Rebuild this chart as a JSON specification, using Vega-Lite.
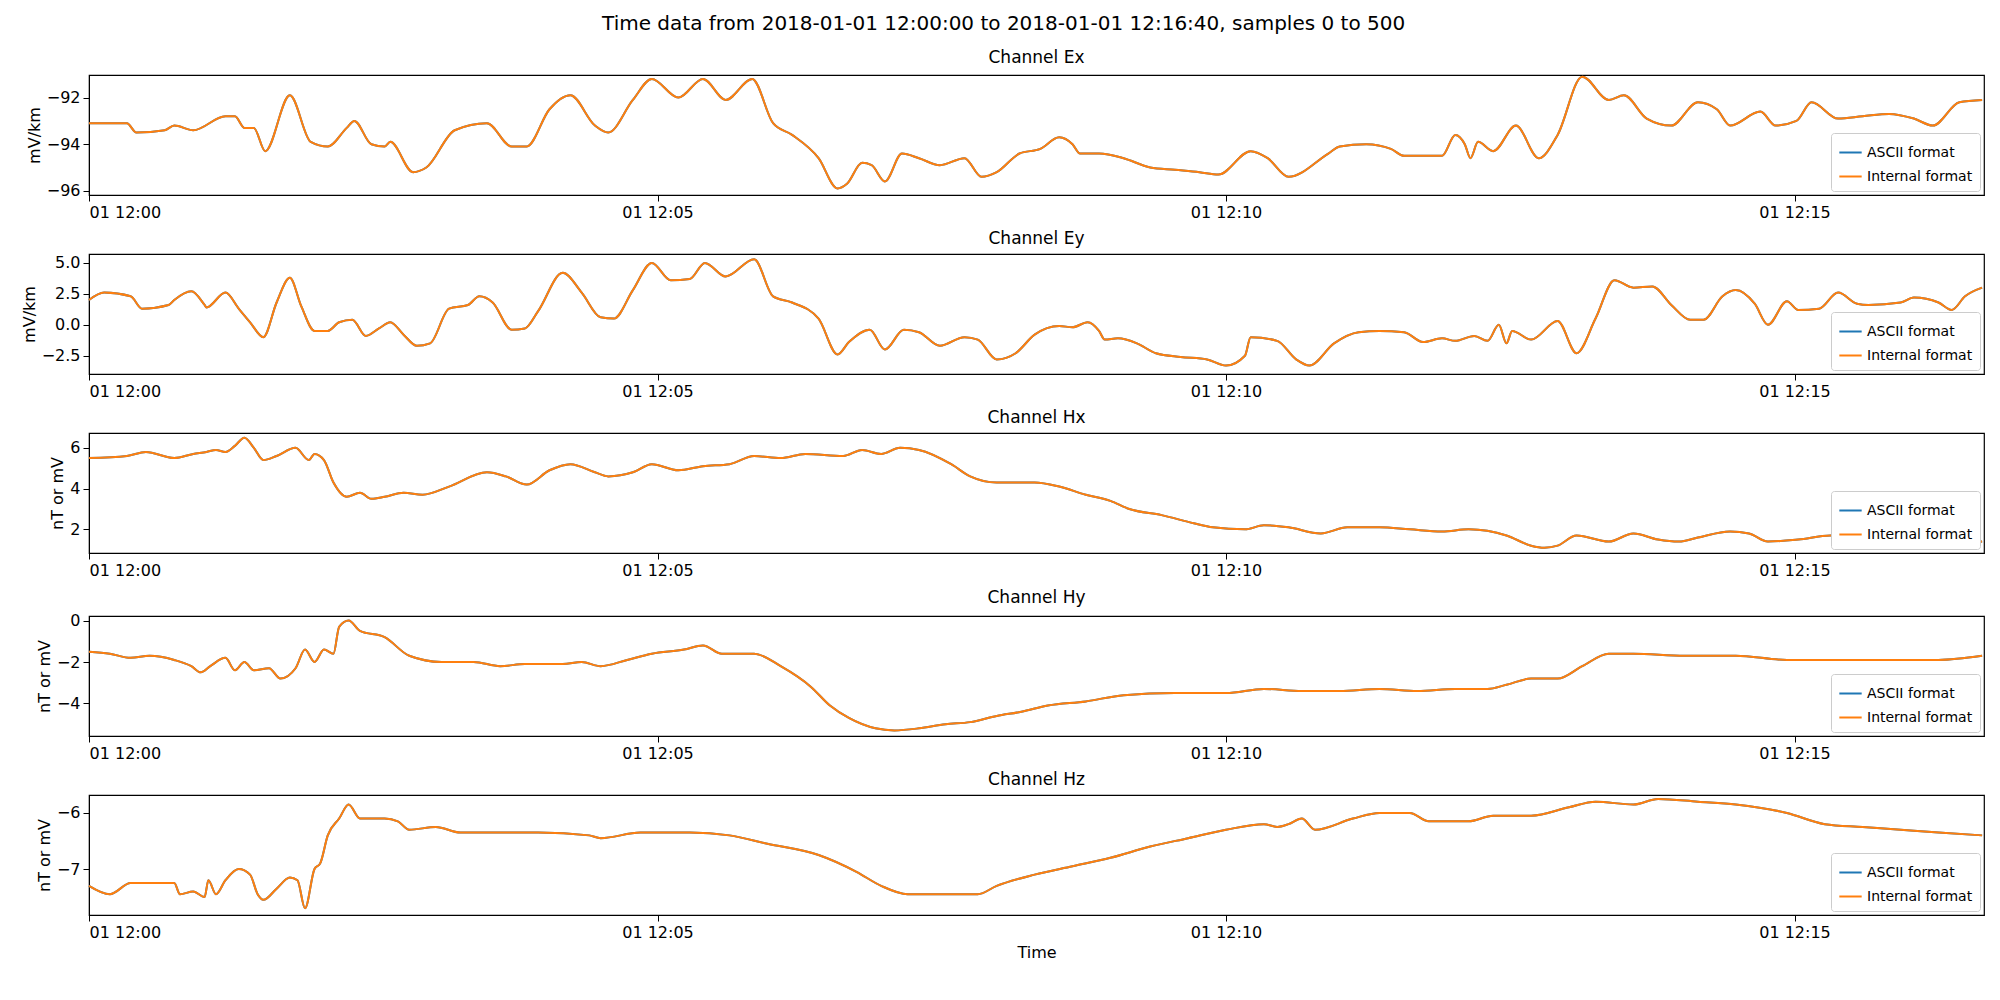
{
  "$schema": "https://vega.github.io/schema/vega-lite/v6.json",
  "background": "white",
  "padding": {"left": 20, "top": 14, "right": 5, "bottom": 5},
  "title": {"text": "Time data from 2018-01-01 12:00:00 to 2018-01-01 12:16:40, samples 0 to 500", "fontSize": 20, "fontWeight": "normal", "font": "DejaVu Sans", "offset": 14, "anchor": "middle"},
  "config": {
    "font": "DejaVu Sans",
    "view": {"stroke": "#000", "strokeWidth": 1.2},
    "axis": {"grid": false, "labelFontSize": 16, "titleFontSize": 16, "titleFontWeight": "normal", "tickColor": "#000", "domainColor": "#000", "labelColor": "#000", "titleColor": "#000", "tickSize": 6, "labelPadding": 3},
    "title": {"fontSize": 17, "fontWeight": "normal", "offset": 6},
    "legend": {"orient": "bottom-right", "offset": 4, "fillColor": "white", "strokeColor": "#ccc", "padding": 7, "cornerRadius": 3, "symbolType": "stroke", "symbolSize": 500, "symbolStrokeWidth": 2, "labelFontSize": 14, "rowPadding": 4, "labelColor": "#000"}
  },
  "datasets": {
    "Ex": [
      {"t":0,"v":-93.1},{"t":20,"v":-93.1},{"t":25,"v":-93.5},{"t":40,"v":-93.4},{"t":45,"v":-93.2},{"t":55,"v":-93.4},{"t":72,"v":-92.8},{"t":77,"v":-92.8},{"t":82,"v":-93.3},{"t":87,"v":-93.3},{"t":93,"v":-94.3},{"t":106,"v":-91.9},{"t":117,"v":-93.9},{"t":126,"v":-94.1},{"t":136,"v":-93.3},{"t":140,"v":-93.0},{"t":149,"v":-94.0},{"t":156,"v":-94.1},{"t":159,"v":-93.9},{"t":171,"v":-95.2},{"t":178,"v":-95.0},{"t":193,"v":-93.4},{"t":210,"v":-93.1},{"t":223,"v":-94.1},{"t":231,"v":-94.1},{"t":243,"v":-92.5},{"t":254,"v":-91.9},{"t":267,"v":-93.2},{"t":274,"v":-93.5},{"t":287,"v":-92.1},{"t":297,"v":-91.2},{"t":311,"v":-92.0},{"t":324,"v":-91.2},{"t":336,"v":-92.1},{"t":350,"v":-91.2},{"t":361,"v":-93.1},{"t":371,"v":-93.6},{"t":385,"v":-94.6},{"t":395,"v":-95.9},{"t":400,"v":-95.7},{"t":408,"v":-94.8},{"t":413,"v":-94.9},{"t":420,"v":-95.6},{"t":429,"v":-94.4},{"t":438,"v":-94.6},{"t":449,"v":-94.9},{"t":462,"v":-94.6},{"t":471,"v":-95.4},{"t":479,"v":-95.2},{"t":491,"v":-94.4},{"t":502,"v":-94.2},{"t":512,"v":-93.7},{"t":519,"v":-94.0},{"t":523,"v":-94.4},{"t":533,"v":-94.4},{"t":546,"v":-94.6},{"t":560,"v":-95.0},{"t":573,"v":-95.1},{"t":586,"v":-95.2},{"t":596,"v":-95.3},{"t":613,"v":-94.3},{"t":622,"v":-94.6},{"t":633,"v":-95.4},{"t":654,"v":-94.4},{"t":660,"v":-94.1},{"t":674,"v":-94.0},{"t":687,"v":-94.2},{"t":694,"v":-94.5},{"t":714,"v":-94.5},{"t":721,"v":-93.6},{"t":726,"v":-94.0},{"t":729,"v":-94.6},{"t":733,"v":-93.9},{"t":741,"v":-94.3},{"t":753,"v":-93.2},{"t":765,"v":-94.6},{"t":775,"v":-93.6},{"t":788,"v":-91.1},{"t":802,"v":-92.1},{"t":810,"v":-91.9},{"t":822,"v":-92.9},{"t":835,"v":-93.2},{"t":849,"v":-92.2},{"t":859,"v":-92.5},{"t":866,"v":-93.2},{"t":882,"v":-92.6},{"t":890,"v":-93.2},{"t":901,"v":-93.0},{"t":909,"v":-92.2},{"t":923,"v":-92.9},{"t":936,"v":-92.8},{"t":950,"v":-92.7},{"t":963,"v":-92.9},{"t":973,"v":-93.2},{"t":987,"v":-92.2},{"t":999,"v":-92.1}
    ],
    "Ey": [
      {"t":0,"v":2.0},{"t":8,"v":2.6},{"t":22,"v":2.3},{"t":28,"v":1.3},{"t":42,"v":1.6},{"t":45,"v":2.0},{"t":54,"v":2.7},{"t":61,"v":1.6},{"t":62,"v":1.4},{"t":72,"v":2.6},{"t":79,"v":1.3},{"t":85,"v":0.2},{"t":92,"v":-1.0},{"t":99,"v":1.8},{"t":106,"v":3.8},{"t":112,"v":1.5},{"t":119,"v":-0.5},{"t":126,"v":-0.5},{"t":132,"v":0.2},{"t":139,"v":0.4},{"t":146,"v":-0.9},{"t":153,"v":-0.3},{"t":159,"v":0.2},{"t":166,"v":-0.8},{"t":173,"v":-1.7},{"t":180,"v":-1.5},{"t":190,"v":1.3},{"t":200,"v":1.6},{"t":206,"v":2.3},{"t":213,"v":1.8},{"t":223,"v":-0.4},{"t":230,"v":-0.3},{"t":237,"v":1.1},{"t":250,"v":4.2},{"t":260,"v":2.6},{"t":270,"v":0.6},{"t":277,"v":0.5},{"t":287,"v":2.8},{"t":297,"v":5.0},{"t":307,"v":3.6},{"t":317,"v":3.7},{"t":325,"v":5.0},{"t":336,"v":3.9},{"t":351,"v":5.3},{"t":361,"v":2.3},{"t":371,"v":1.8},{"t":385,"v":0.5},{"t":395,"v":-2.4},{"t":401,"v":-1.4},{"t":412,"v":-0.4},{"t":420,"v":-2.0},{"t":430,"v":-0.4},{"t":438,"v":-0.6},{"t":449,"v":-1.7},{"t":462,"v":-1.0},{"t":469,"v":-1.2},{"t":479,"v":-2.8},{"t":489,"v":-2.3},{"t":499,"v":-0.8},{"t":512,"v":-0.1},{"t":519,"v":-0.2},{"t":527,"v":0.2},{"t":533,"v":-0.5},{"t":536,"v":-1.2},{"t":543,"v":-1.1},{"t":553,"v":-1.5},{"t":563,"v":-2.3},{"t":576,"v":-2.6},{"t":590,"v":-2.8},{"t":600,"v":-3.3},{"t":610,"v":-2.5},{"t":613,"v":-1.0},{"t":627,"v":-1.3},{"t":637,"v":-2.8},{"t":644,"v":-3.3},{"t":657,"v":-1.5},{"t":670,"v":-0.6},{"t":681,"v":-0.5},{"t":694,"v":-0.6},{"t":704,"v":-1.4},{"t":714,"v":-1.1},{"t":721,"v":-1.3},{"t":731,"v":-0.9},{"t":738,"v":-1.3},{"t":744,"v":0.0},{"t":748,"v":-1.5},{"t":751,"v":-0.5},{"t":761,"v":-1.2},{"t":775,"v":0.3},{"t":785,"v":-2.3},{"t":795,"v":0.5},{"t":805,"v":3.6},{"t":815,"v":3.0},{"t":825,"v":3.1},{"t":835,"v":1.6},{"t":845,"v":0.4},{"t":852,"v":0.4},{"t":862,"v":2.3},{"t":869,"v":2.8},{"t":879,"v":1.7},{"t":886,"v":0.0},{"t":896,"v":1.9},{"t":902,"v":1.2},{"t":913,"v":1.3},{"t":923,"v":2.6},{"t":933,"v":1.7},{"t":939,"v":1.6},{"t":956,"v":1.8},{"t":963,"v":2.2},{"t":976,"v":1.8},{"t":983,"v":1.2},{"t":990,"v":2.3},{"t":999,"v":3.0}
    ],
    "Hx": [
      {"t":0,"v":5.5},{"t":20,"v":5.6},{"t":30,"v":5.8},{"t":45,"v":5.5},{"t":55,"v":5.7},{"t":62,"v":5.8},{"t":67,"v":5.9},{"t":72,"v":5.8},{"t":77,"v":6.1},{"t":82,"v":6.5},{"t":87,"v":6.0},{"t":92,"v":5.4},{"t":99,"v":5.6},{"t":109,"v":6.0},{"t":116,"v":5.4},{"t":119,"v":5.7},{"t":124,"v":5.4},{"t":129,"v":4.3},{"t":136,"v":3.6},{"t":143,"v":3.8},{"t":149,"v":3.5},{"t":156,"v":3.6},{"t":166,"v":3.8},{"t":176,"v":3.7},{"t":190,"v":4.1},{"t":210,"v":4.8},{"t":220,"v":4.6},{"t":231,"v":4.2},{"t":243,"v":4.9},{"t":254,"v":5.2},{"t":267,"v":4.8},{"t":274,"v":4.6},{"t":287,"v":4.8},{"t":297,"v":5.2},{"t":311,"v":4.9},{"t":324,"v":5.1},{"t":338,"v":5.2},{"t":351,"v":5.6},{"t":365,"v":5.5},{"t":378,"v":5.7},{"t":398,"v":5.6},{"t":408,"v":5.9},{"t":418,"v":5.7},{"t":428,"v":6.0},{"t":438,"v":5.9},{"t":455,"v":5.2},{"t":465,"v":4.6},{"t":479,"v":4.3},{"t":499,"v":4.3},{"t":512,"v":4.1},{"t":526,"v":3.7},{"t":539,"v":3.4},{"t":549,"v":3.0},{"t":566,"v":2.7},{"t":583,"v":2.3},{"t":593,"v":2.1},{"t":610,"v":2.0},{"t":620,"v":2.2},{"t":633,"v":2.1},{"t":650,"v":1.8},{"t":664,"v":2.1},{"t":681,"v":2.1},{"t":697,"v":2.0},{"t":714,"v":1.9},{"t":728,"v":2.0},{"t":748,"v":1.7},{"t":761,"v":1.2},{"t":768,"v":1.1},{"t":775,"v":1.2},{"t":785,"v":1.7},{"t":802,"v":1.4},{"t":815,"v":1.8},{"t":828,"v":1.5},{"t":839,"v":1.4},{"t":849,"v":1.6},{"t":866,"v":1.9},{"t":876,"v":1.8},{"t":886,"v":1.4},{"t":902,"v":1.5},{"t":919,"v":1.7},{"t":936,"v":1.6},{"t":950,"v":1.4},{"t":970,"v":1.5},{"t":983,"v":1.3},{"t":999,"v":1.4}
    ],
    "Hy": [
      {"t":0,"v":-1.5},{"t":11,"v":-1.6},{"t":22,"v":-1.8},{"t":32,"v":-1.7},{"t":45,"v":-1.9},{"t":54,"v":-2.2},{"t":59,"v":-2.5},{"t":64,"v":-2.2},{"t":72,"v":-1.8},{"t":77,"v":-2.4},{"t":82,"v":-2.0},{"t":87,"v":-2.4},{"t":95,"v":-2.3},{"t":101,"v":-2.8},{"t":109,"v":-2.3},{"t":114,"v":-1.4},{"t":119,"v":-2.0},{"t":124,"v":-1.4},{"t":129,"v":-1.6},{"t":132,"v":-0.3},{"t":137,"v":0.0},{"t":143,"v":-0.5},{"t":156,"v":-0.8},{"t":169,"v":-1.7},{"t":186,"v":-2.0},{"t":203,"v":-2.0},{"t":217,"v":-2.2},{"t":230,"v":-2.1},{"t":250,"v":-2.1},{"t":260,"v":-2.0},{"t":270,"v":-2.2},{"t":284,"v":-1.9},{"t":297,"v":-1.6},{"t":314,"v":-1.4},{"t":324,"v":-1.2},{"t":334,"v":-1.6},{"t":351,"v":-1.6},{"t":365,"v":-2.2},{"t":381,"v":-3.2},{"t":391,"v":-4.1},{"t":401,"v":-4.7},{"t":415,"v":-5.2},{"t":425,"v":-5.3},{"t":438,"v":-5.2},{"t":452,"v":-5.0},{"t":465,"v":-4.9},{"t":479,"v":-4.6},{"t":492,"v":-4.4},{"t":506,"v":-4.1},{"t":526,"v":-3.9},{"t":546,"v":-3.6},{"t":573,"v":-3.5},{"t":600,"v":-3.5},{"t":620,"v":-3.3},{"t":640,"v":-3.4},{"t":660,"v":-3.4},{"t":681,"v":-3.3},{"t":701,"v":-3.4},{"t":721,"v":-3.3},{"t":738,"v":-3.3},{"t":748,"v":-3.1},{"t":761,"v":-2.8},{"t":775,"v":-2.8},{"t":788,"v":-2.2},{"t":802,"v":-1.6},{"t":815,"v":-1.6},{"t":842,"v":-1.7},{"t":869,"v":-1.7},{"t":896,"v":-1.9},{"t":923,"v":-1.9},{"t":950,"v":-1.9},{"t":976,"v":-1.9},{"t":999,"v":-1.7}
    ],
    "Hz": [
      {"t":0,"v":-7.3},{"t":11,"v":-7.45},{"t":22,"v":-7.25},{"t":45,"v":-7.25},{"t":48,"v":-7.45},{"t":55,"v":-7.4},{"t":61,"v":-7.5},{"t":63,"v":-7.2},{"t":67,"v":-7.45},{"t":72,"v":-7.2},{"t":79,"v":-7.0},{"t":85,"v":-7.1},{"t":89,"v":-7.45},{"t":92,"v":-7.55},{"t":99,"v":-7.35},{"t":106,"v":-7.15},{"t":110,"v":-7.2},{"t":114,"v":-7.7},{"t":119,"v":-7.0},{"t":122,"v":-6.9},{"t":126,"v":-6.4},{"t":132,"v":-6.1},{"t":137,"v":-5.85},{"t":143,"v":-6.1},{"t":156,"v":-6.1},{"t":163,"v":-6.15},{"t":169,"v":-6.3},{"t":183,"v":-6.25},{"t":196,"v":-6.35},{"t":210,"v":-6.35},{"t":237,"v":-6.35},{"t":264,"v":-6.4},{"t":270,"v":-6.45},{"t":291,"v":-6.35},{"t":317,"v":-6.35},{"t":338,"v":-6.4},{"t":358,"v":-6.55},{"t":385,"v":-6.75},{"t":405,"v":-7.05},{"t":418,"v":-7.3},{"t":432,"v":-7.45},{"t":452,"v":-7.45},{"t":469,"v":-7.45},{"t":479,"v":-7.3},{"t":499,"v":-7.1},{"t":519,"v":-6.95},{"t":539,"v":-6.8},{"t":560,"v":-6.6},{"t":580,"v":-6.45},{"t":600,"v":-6.3},{"t":620,"v":-6.2},{"t":627,"v":-6.25},{"t":633,"v":-6.2},{"t":640,"v":-6.1},{"t":647,"v":-6.3},{"t":667,"v":-6.1},{"t":681,"v":-6.0},{"t":697,"v":-6.0},{"t":707,"v":-6.15},{"t":728,"v":-6.15},{"t":741,"v":-6.05},{"t":761,"v":-6.05},{"t":781,"v":-5.9},{"t":795,"v":-5.8},{"t":815,"v":-5.85},{"t":828,"v":-5.75},{"t":849,"v":-5.8},{"t":869,"v":-5.85},{"t":896,"v":-6.0},{"t":916,"v":-6.2},{"t":936,"v":-6.25},{"t":956,"v":-6.3},{"t":976,"v":-6.35},{"t":999,"v":-6.4}
    ]
  },
  "spacing": 8,
  "resolve": {"legend": {"color": "independent"}},
  "vconcat": [
    {
      "title": "Channel Ex", "width": 1895, "height": 120,
      "data": {"name": "Ex"},
      "encoding": {
        "x": {"field": "t", "type": "quantitative", "scale": {"domain": [0, 1000], "nice": false}, "axis": {"values": [0, 300, 600, 900], "labelExpr": "'01 12:' + (datum.value < 600 ? '0' : '') + (datum.value / 60)", "title": null}},
        "y": {"field": "v", "type": "quantitative", "scale": {"domain": [-96.18, -91.03], "nice": false, "zero": false}, "axis": {"values": [-96, -94, -92], "title": "mV/km"}}
      },
      "layer": [
        {"mark": {"type": "line", "strokeWidth": 2, "interpolate": "monotone"}, "encoding": {"color": {"datum": "ASCII format", "scale": {"domain": ["ASCII format", "Internal format"], "range": ["#1f77b4", "#ff7f0e"]}, "legend": {"title": null}}}},
        {"mark": {"type": "line", "strokeWidth": 2, "interpolate": "monotone"}, "encoding": {"color": {"datum": "Internal format"}}}
      ]
    },
    {
      "title": "Channel Ey", "width": 1895, "height": 120,
      "data": {"name": "Ey"},
      "encoding": {
        "x": {"field": "t", "type": "quantitative", "scale": {"domain": [0, 1000], "nice": false}, "axis": {"values": [0, 300, 600, 900], "labelExpr": "'01 12:' + (datum.value < 600 ? '0' : '') + (datum.value / 60)", "title": null}},
        "y": {"field": "v", "type": "quantitative", "scale": {"domain": [-3.98, 5.72], "nice": false, "zero": false}, "axis": {"values": [-2.5, 0, 2.5, 5], "format": ".1f", "title": "mV/km"}}
      },
      "layer": [
        {"mark": {"type": "line", "strokeWidth": 2, "interpolate": "monotone"}, "encoding": {"color": {"datum": "ASCII format", "scale": {"domain": ["ASCII format", "Internal format"], "range": ["#1f77b4", "#ff7f0e"]}, "legend": {"title": null}}}},
        {"mark": {"type": "line", "strokeWidth": 2, "interpolate": "monotone"}, "encoding": {"color": {"datum": "Internal format"}}}
      ]
    },
    {
      "title": "Channel Hx", "width": 1895, "height": 120,
      "data": {"name": "Hx"},
      "encoding": {
        "x": {"field": "t", "type": "quantitative", "scale": {"domain": [0, 1000], "nice": false}, "axis": {"values": [0, 300, 600, 900], "labelExpr": "'01 12:' + (datum.value < 600 ? '0' : '') + (datum.value / 60)", "title": null}},
        "y": {"field": "v", "type": "quantitative", "scale": {"domain": [0.84, 6.73], "nice": false, "zero": false}, "axis": {"values": [2, 4, 6], "title": "nT or mV"}}
      },
      "layer": [
        {"mark": {"type": "line", "strokeWidth": 2, "interpolate": "monotone"}, "encoding": {"color": {"datum": "ASCII format", "scale": {"domain": ["ASCII format", "Internal format"], "range": ["#1f77b4", "#ff7f0e"]}, "legend": {"title": null}}}},
        {"mark": {"type": "line", "strokeWidth": 2, "interpolate": "monotone"}, "encoding": {"color": {"datum": "Internal format"}}}
      ]
    },
    {
      "title": "Channel Hy", "width": 1895, "height": 120,
      "data": {"name": "Hy"},
      "encoding": {
        "x": {"field": "t", "type": "quantitative", "scale": {"domain": [0, 1000], "nice": false}, "axis": {"values": [0, 300, 600, 900], "labelExpr": "'01 12:' + (datum.value < 600 ? '0' : '') + (datum.value / 60)", "title": null}},
        "y": {"field": "v", "type": "quantitative", "scale": {"domain": [-5.57, 0.22], "nice": false, "zero": false}, "axis": {"values": [-4, -2, 0], "title": "nT or mV"}}
      },
      "layer": [
        {"mark": {"type": "line", "strokeWidth": 2, "interpolate": "monotone"}, "encoding": {"color": {"datum": "ASCII format", "scale": {"domain": ["ASCII format", "Internal format"], "range": ["#1f77b4", "#ff7f0e"]}, "legend": {"title": null}}}},
        {"mark": {"type": "line", "strokeWidth": 2, "interpolate": "monotone"}, "encoding": {"color": {"datum": "Internal format"}}}
      ]
    },
    {
      "title": "Channel Hz", "width": 1895, "height": 120,
      "data": {"name": "Hz"},
      "encoding": {
        "x": {"field": "t", "type": "quantitative", "scale": {"domain": [0, 1000], "nice": false}, "axis": {"values": [0, 300, 600, 900], "labelExpr": "'01 12:' + (datum.value < 600 ? '0' : '') + (datum.value / 60)", "title": "Time"}},
        "y": {"field": "v", "type": "quantitative", "scale": {"domain": [-7.82, -5.68], "nice": false, "zero": false}, "axis": {"values": [-7, -6], "title": "nT or mV"}}
      },
      "layer": [
        {"mark": {"type": "line", "strokeWidth": 2, "interpolate": "monotone"}, "encoding": {"color": {"datum": "ASCII format", "scale": {"domain": ["ASCII format", "Internal format"], "range": ["#1f77b4", "#ff7f0e"]}, "legend": {"title": null}}}},
        {"mark": {"type": "line", "strokeWidth": 2, "interpolate": "monotone"}, "encoding": {"color": {"datum": "Internal format"}}}
      ]
    }
  ]
}
